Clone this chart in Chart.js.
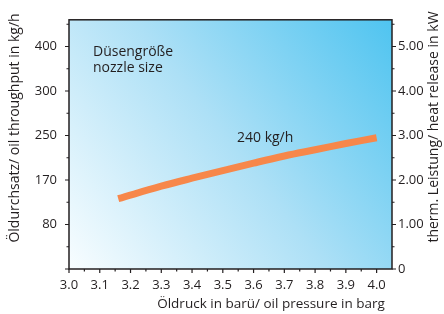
<!DOCTYPE html>
<html>
<head>
<meta charset="utf-8">
<script src="https://cdn.jsdelivr.net/npm/chart.js@4/dist/chart.umd.min.js"></script>
<style>
    body { margin: 0; background: #fff; }
    .chart-container { width: 444px; height: 314px; }
</style>
</head>
<body>
<div class="chart-container"><canvas id="nozzleChart"></canvas></div>
<script>
// oil pressure (barg) and heat release (kW) of the 240 kg/h nozzle
const pressure = [3.16, 3.3, 3.4, 3.5, 3.6, 3.7, 3.8, 3.9, 4.0];
const heatRelease = [1.58, 1.86, 2.04, 2.21, 2.38, 2.54, 2.68, 2.82, 2.95];
const throughputLabels = ['', '80', '170', '250', '300', '400'];
const seriesName = '240 kg/h';
const noteLines = ['Düsengröße', 'nozzle size'];
const xTitle = 'Öldruck in barü/ oil pressure in barg';
const leftTitle = 'Öldurchsatz/ oil throughput in kg/h';
const rightTitle = 'therm. Leistung/ heat release in kW';

const ink = '#231f20',
      font = '"Open Sans", sans-serif';

const decor = {
    id: 'decor',
    beforeDraw(chart) {
        const {ctx, chartArea: a} = chart;
        const g = ctx.createLinearGradient(a.left, a.bottom, a.right, a.top);
        g.addColorStop(0, '#f8fdff');
        g.addColorStop(0.5, '#ade0f6');
        g.addColorStop(1, '#4fc4f0');
        ctx.save();
        ctx.fillStyle = g;
        ctx.fillRect(a.left, a.top, a.right - a.left, a.bottom - a.top);
        ctx.restore();
    },
    afterDraw(chart) {
        const {ctx, chartArea: a, scales} = chart;
        ctx.save();
        ctx.strokeStyle = ink;
        ctx.lineWidth = 1.5;
        ctx.strokeRect(a.left, a.top, a.right - a.left, a.bottom - a.top);

        // ticks, major and minor
        ctx.lineWidth = 1.2;
        ctx.beginPath();
        for (let i = 0; i <= 20; i++) {
            const px = scales.x.getPixelForValue(3 + i * 0.05),
                  len = i % 2 == 0 ? 4 : 2.5;
            ctx.moveTo(px, a.bottom);
            ctx.lineTo(px, a.bottom + len);
        }
        for (let i = 0; i <= 11; i++) {
            const py = scales.y.getPixelForValue(i * 0.5),
                  len = i % 2 == 0 ? 4 : 2.5;
            ctx.moveTo(a.left, py);
            ctx.lineTo(a.left - len, py);
            ctx.moveTo(a.right, py);
            ctx.lineTo(a.right + len, py);
        }
        ctx.stroke();

        // texts
        ctx.fillStyle = ink;
        ctx.font = '14px ' + font;
        ctx.textBaseline = 'middle';
        ctx.textAlign = 'left';
        ctx.fillText(noteLines[0], 93, 52);
        ctx.fillText(noteLines[1], 93, 68);
        ctx.fillText(seriesName, 237, 138);

        ctx.textAlign = 'center';
        ctx.font = '13.5px ' + font;
        ctx.fillText(xTitle, 271, 304);

        ctx.font = '14px ' + font;
        ctx.translate(15, 128);
        ctx.rotate(-Math.PI / 2);
        ctx.fillText(leftTitle, 0, 0);
        ctx.setTransform(1, 0, 0, 1, 0, 0);
        ctx.translate(434, 127);
        ctx.rotate(-Math.PI / 2);
        ctx.fillText(rightTitle, 0, 0);
        ctx.restore();
    }
};

const config = {
    type: 'line',
    data: {
        datasets: [{
            label: seriesName,
            data: pressure.map((p, i) => ({x: p, y: heatRelease[i]})),
            yAxisID: 'y1',
            borderColor: '#f7874a',
            borderWidth: 7,
            borderCapStyle: 'butt',
            pointRadius: 0,
            tension: 0.4,
            fill: false
        }]
    },
    options: {
        responsive: true,
        maintainAspectRatio: false,
        animation: false,
        layout: {padding: {top: 13}},
        plugins: {legend: {display: false}, tooltip: {enabled: false}},
        scales: {
            x: {
                type: 'linear',
                min: 3.0,
                max: 4.05,
                grid: {display: false, drawTicks: false},
                border: {display: false},
                ticks: {
                    stepSize: 0.1,
                    includeBounds: false,
                    padding: 8,
                    color: ink,
                    font: {family: font, size: 13},
                    maxRotation: 0,
                    callback: v => Number(v).toFixed(1)
                },
                afterFit: s => { s.height = 45; }
            },
            y: {
                position: 'left',
                min: 0,
                max: 5.6,
                grid: {display: false, drawTicks: false},
                border: {display: false},
                ticks: {
                    stepSize: 1,
                    includeBounds: false,
                    padding: 12,
                    color: ink,
                    font: {family: font, size: 13},
                    callback: v => throughputLabels[Math.round(v)]
                },
                afterFit: s => { s.width = 69; }
            },
            y1: {
                position: 'right',
                min: 0,
                max: 5.6,
                grid: {display: false, drawTicks: false},
                border: {display: false},
                ticks: {
                    stepSize: 1,
                    includeBounds: false,
                    padding: 6,
                    color: ink,
                    font: {family: font, size: 13},
                    callback: v => v == 0 ? '0' : Number(v).toFixed(2)
                },
                afterFit: s => { s.width = 52; }
            }
        }
    },
    plugins: [decor]
};

new Chart(document.getElementById('nozzleChart'), config);
</script>
</body>
</html>
